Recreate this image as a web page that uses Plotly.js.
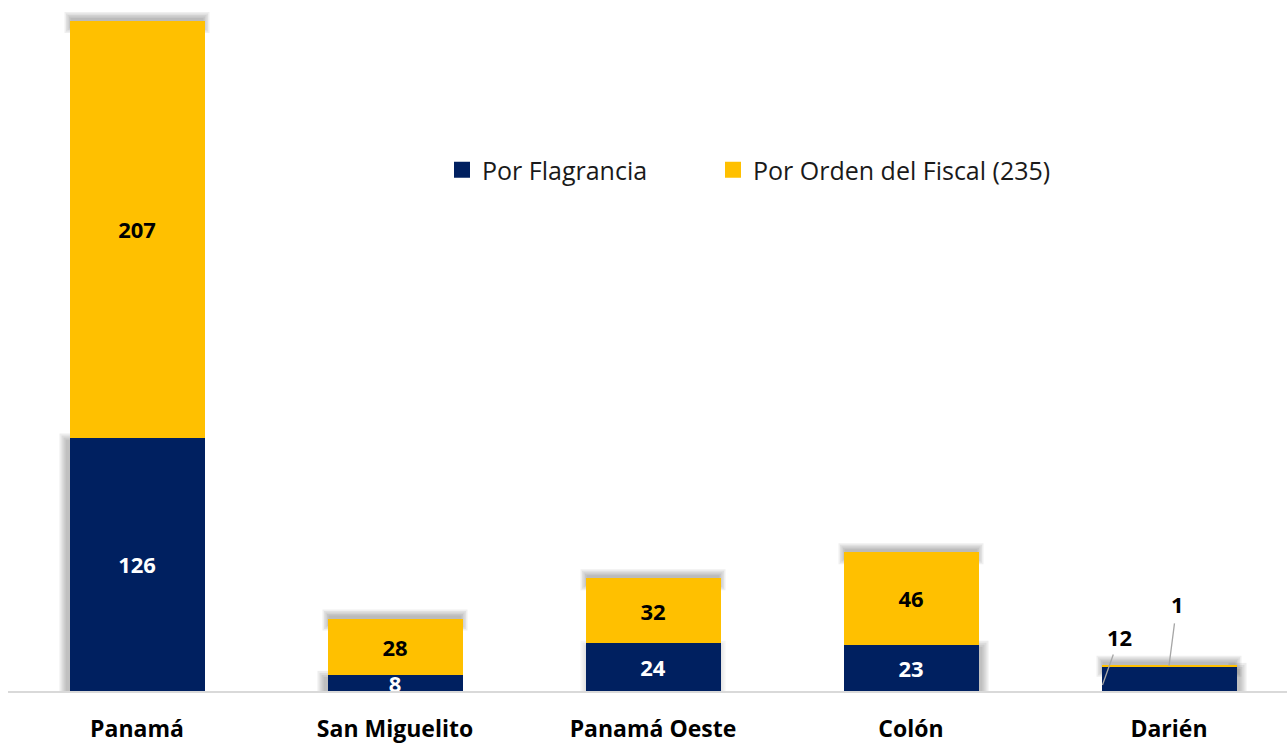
<!DOCTYPE html>
<html>
<head>
<meta charset="utf-8">
<script src="https://cdn.plot.ly/plotly-3.0.1.min.js"></script>
<style>html,body{margin:0;padding:0;background:#fff;}#chart{width:1287px;height:745px;}</style>
</head>
<body>
<div id="chart"></div>
<script>
const categories = ['Panamá', 'San Miguelito', 'Panamá Oeste', 'Colón', 'Darién'];
const porFlagrancia = [126, 8, 24, 23, 12];
const porOrdenFiscal = [207, 28, 32, 46, 1];
const seriesNames = ['Por Flagrancia', 'Por Orden del Fiscal (235)'];

const NAVY = '#002060';
const GOLD = '#FFC000';
const FONT = 'Open Sans, Noto Sans, sans-serif';

const W = 1287, H = 745;
const margin = {l: 8, r: 0, t: 12, b: 54};
const plotW = W - margin.l - margin.r;
const plotH = H - margin.t - margin.b;
const pxPerCat = 258;
const xRange = [-0.5, -0.5 + plotW / pxPerCat];
const yMax = 337.5;
const yRange = [0, yMax];
const pxX = 1 / pxPerCat;          // one pixel in x data units
const pxY = yMax / plotH;          // one pixel in y data units
const barWidth = 135 / pxPerCat;
const hw = barWidth / 2;
const last = categories.length - 1;

// soft shadows built from data
const shapes = [];
function blurRect(x0, x1, y0, y1, spreads, op) {
  spreads.forEach(s => {
    shapes.push({type: 'rect', layer: 'below', xref: 'x', yref: 'y',
      x0: x0 - s * pxX, x1: x1 + s * pxX, y0: Math.max(0, y0 - s * pxY), y1: y1 + s * pxY,
      line: {width: 0}, fillcolor: 'rgba(80,80,80,' + op + ')'});
  });
}
const mid = last / 2;
categories.forEach((c, i) => {
  const top = porFlagrancia[i] + porOrdenFiscal[i];
  // shadow above the top segment
  blurRect(i - hw + 1 * pxX, i + hw - 1 * pxX, top - 6 * pxY, top + 3 * pxY, [0, 1.5, 3, 4.5, 6], 0.09);
  // side shadow of the bottom segment
  const yTop = porFlagrancia[i] - 2 * pxY;
  if (i < mid) {
    blurRect(i - hw - 4 * pxX, i - hw + 2 * pxX, 0, Math.max(yTop, 4 * pxY), [0, 2, 4, 6], 0.1);
  } else if (i > mid) {
    blurRect(i + hw - 2 * pxX, i + hw + 4 * pxX, 0, Math.max(yTop, 4 * pxY), [0, 2, 4, 6], 0.1);
  } else {
    blurRect(i - hw - 1 * pxX, i + hw + 1 * pxX, 0, yTop, [0, 2, 4], 0.06);
  }
});

const labelFont = {family: FONT, size: 22, color: '#000'};

const traces = [
  {
    type: 'bar', name: seriesNames[0], x: categories, y: porFlagrancia, showlegend: false,
    marker: {color: NAVY, line: {width: 0}},
    text: porFlagrancia.map((v, i) => i === last ? '' : String(v)),
    texttemplate: '<b>%{text}</b>', textangle: 0,
    textposition: 'inside', insidetextanchor: 'middle', constraintext: 'none',
    insidetextfont: {family: FONT, size: 22, color: '#ffffff'},
    hoverinfo: 'x+y+name'
  },
  {
    type: 'bar', name: seriesNames[1], x: categories, y: porOrdenFiscal, showlegend: false,
    marker: {color: GOLD, line: {width: 0}},
    text: porOrdenFiscal.map((v, i) => i === last ? '' : String(v)),
    texttemplate: '<b>%{text}</b>', textangle: 0,
    textposition: 'inside', insidetextanchor: 'middle', constraintext: 'none',
    insidetextfont: {family: FONT, size: 22, color: '#000000'},
    hoverinfo: 'x+y+name'
  },
  // legend entries (square keys)
  {type: 'scatter', mode: 'markers', name: seriesNames[0], x: [null], y: [null], legend: 'legend',
   marker: {symbol: 'square', size: 16, color: NAVY}, showlegend: true, hoverinfo: 'skip'},
  {type: 'scatter', mode: 'markers', name: seriesNames[1], x: [null], y: [null], legend: 'legend2',
   marker: {symbol: 'square', size: 16, color: GOLD}, showlegend: true, hoverinfo: 'skip'}
];

// Darién labels with leader lines
const annotations = [
  {x: last - hw + 1 * pxX, y: 3, xref: 'x', yref: 'y', text: '<b>' + porFlagrancia[last] + '</b>',
   showarrow: true, arrowhead: 0, arrowwidth: 1.3, arrowcolor: '#a6a6a6',
   ax: 17, ay: -48, font: labelFont, borderpad: 2},
  {x: last, y: porFlagrancia[last] + porOrdenFiscal[last] / 2, xref: 'x', yref: 'y', text: '<b>' + porOrdenFiscal[last] + '</b>',
   showarrow: true, arrowhead: 0, arrowwidth: 1.3, arrowcolor: '#a6a6a6',
   ax: 8, ay: -62, font: labelFont, borderpad: 4}
];

const legendBase = {orientation: 'h', y: (H - margin.b - 170) / plotH, xanchor: 'left', yanchor: 'middle',
  font: {family: FONT, size: 25, color: '#1a1a1a'}, bgcolor: 'rgba(0,0,0,0)'};

const layout = {
  width: W, height: H, margin: margin,
  paper_bgcolor: '#ffffff', plot_bgcolor: '#ffffff',
  barmode: 'stack', bargap: 1 - 135 / pxPerCat,
  showlegend: true,
  legend: Object.assign({}, legendBase, {x: (442 - margin.l) / plotW}),
  legend2: Object.assign({}, legendBase, {x: (713 - margin.l) / plotW}),
  xaxis: {type: 'category', range: xRange, showgrid: false, zeroline: false,
    showline: true, linecolor: '#d9d9d9', linewidth: 2, ticks: '', ticklabelstandoff: 16,
    tickfont: {family: FONT, size: 23, color: '#000'}, tickprefix: '<b>', ticksuffix: '</b>', fixedrange: true},
  yaxis: {range: yRange, visible: false, showgrid: false, zeroline: false, fixedrange: true},
  shapes: shapes,
  annotations: annotations,
  font: {family: FONT}
};

Plotly.newPlot('chart', traces, layout, {displayModeBar: false, staticPlot: true});
</script>
</body>
</html>
